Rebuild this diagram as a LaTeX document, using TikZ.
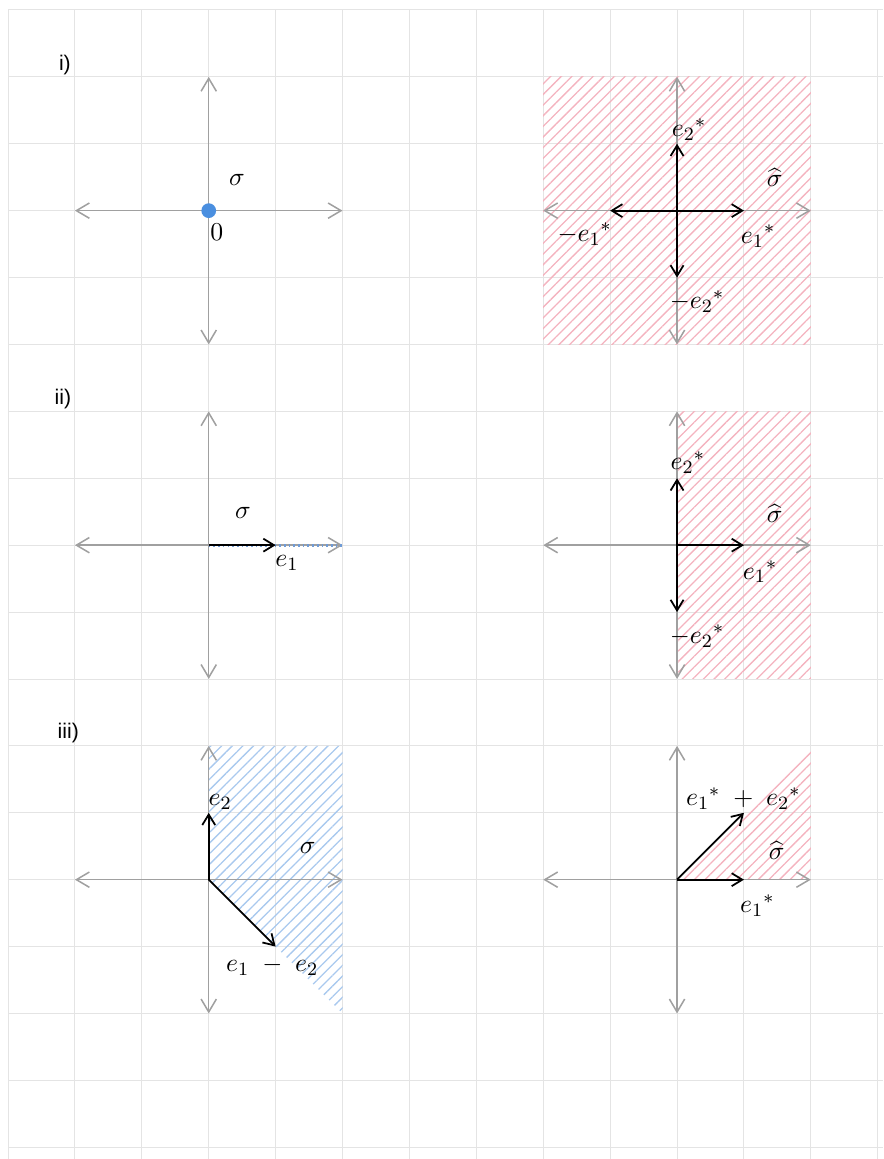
\documentclass[tikz,border=0pt]{standalone}
\usepackage{fontspec}
\setsansfont{Liberation Sans}
\usetikzlibrary{positioning,arrows.meta,patterns.meta}
\definecolor{gridgray}{HTML}{E4E4E4}
\definecolor{axisgray}{HTML}{A0A0A0}
\definecolor{conered}{HTML}{F4B3BF}
\definecolor{coneblue}{HTML}{A9C9EE}
\definecolor{dotblue}{HTML}{4A8FE0}
\definecolor{rayblue}{HTML}{6F9BD6}
\tikzset{
  gridline/.style={draw=gridgray, line width=0.4pt},
  axis/.style={draw=axisgray, line width=0.65pt,
    {Straight Barb[length=5.5pt,width=6.5pt]}-{Straight Barb[length=5.5pt,width=6.5pt]}},
  vec/.style={draw=black, line width=0.75pt, -{Straight Barb[length=4.5pt,width=5.5pt]}},
  redcone/.style={pattern={Lines[angle=45,distance=3.2pt,line width=0.55pt]}, pattern color=conered},
  bluecone/.style={pattern={Lines[angle=45,distance=3.2pt,line width=0.55pt]}, pattern color=coneblue},
  lbl/.style={font=\fontsize{11}{13}\selectfont, inner sep=0pt},
  part/.style={font=\sffamily\fontsize{9}{11}\selectfont, inner sep=0pt},
}
\begin{document}
\begin{tikzpicture}
  \useasboundingbox (-0.12,-0.175) rectangle (13.08,17.149);
  \draw[gridline] (0,-0.175) grid (13.08,17);

  % i)
  \node[part] (pi) at (0.85,16.18) {i)};
  \coordinate (A) at (3,14);
  \coordinate (B) at (10,14);
  \fill[redcone] (8,12) rectangle (12,16);
  \draw[axis] ([xshift=-2cm]A) -- ([xshift=2cm]A);
  \draw[axis] ([yshift=-2cm]A) -- ([yshift=2cm]A);
  \draw[axis] ([xshift=-2cm]B) -- ([xshift=2cm]B);
  \draw[axis] ([yshift=-2cm]B) -- ([yshift=2cm]B);
  \fill[dotblue] (A) circle (0.11);
  \node[lbl] (sA) at (3.42,14.46) {$\sigma$};
  \node[lbl] (zA) at (3.12,13.68) {$0$};
  \coordinate[right=1 of B] (B1);
  \coordinate[left=1 of B] (B2);
  \coordinate[above=1 of B] (B3);
  \coordinate[below=1 of B] (B4);
  \draw[vec] (B) to (B1);
  \draw[vec] (B) to (B2);
  \draw[vec] (B) to (B3);
  \draw[vec] (B) to (B4);
  \node[lbl] (sB) at (11.46,14.49) {$\widehat{\sigma}$};
  \node[lbl] (lB1) at (11.21,13.62) {${e_1}^{*}$};
  \node[lbl] (lB2) at (8.62,13.65) {$-{e_1}^{*}$};
  \node[lbl] (lB3) at (10.18,15.21) {${e_2}^{*}$};
  \node[lbl] (lB4) at (10.30,12.64) {$-{e_2}^{*}$};

  % ii)
  \node[part] (pii) at (0.82,11.19) {ii)};
  \coordinate (C) at (3,9);
  \coordinate (D) at (10,9);
  \fill[redcone] (10,7) rectangle (12,11);
  \draw[axis] ([xshift=-2cm]C) -- ([xshift=2cm]C);
  \draw[axis] ([yshift=-2cm]C) -- ([yshift=2cm]C);
  \draw[axis] ([xshift=-2cm]D) -- ([xshift=2cm]D);
  \draw[axis] ([yshift=-2cm]D) -- ([yshift=2cm]D);
  \coordinate[right=2 of C] (C2);
  \coordinate[right=1 of C] (C1);
  \draw[rayblue, line width=1.3pt, dash pattern=on 0.7pt off 1.3pt] (C) -- (C2);
  \draw[vec] (C) to (C1);
  \node[lbl] (sC) at (3.51,9.48) {$\sigma$};
  \node[lbl] (lC1) at (4.17,8.73) {$e_1$};
  \coordinate[right=1 of D] (D1);
  \coordinate[above=1 of D] (D3);
  \coordinate[below=1 of D] (D4);
  \draw[vec] (D) to (D1);
  \draw[vec] (D) to (D3);
  \draw[vec] (D) to (D4);
  \node[lbl] (sD) at (11.46,9.48) {$\widehat{\sigma}$};
  \node[lbl] (lD1) at (11.24,8.60) {${e_1}^{*}$};
  \node[lbl] (lD3) at (10.16,10.23) {${e_2}^{*}$};
  \node[lbl] (lD4) at (10.30,7.64) {$-{e_2}^{*}$};

  % iii)
  \node[part] (piii) at (0.90,6.19) {iii)};
  \coordinate (E) at (3,4);
  \coordinate (F) at (10,4);
  \fill[bluecone] (E) -- (3,6) -- (5,6) -- (5,2) -- cycle;
  \fill[redcone] (F) -- (12,4) -- (12,6) -- cycle;
  \draw[axis] ([xshift=-2cm]E) -- ([xshift=2cm]E);
  \draw[axis] ([yshift=-2cm]E) -- ([yshift=2cm]E);
  \draw[axis] ([xshift=-2cm]F) -- ([xshift=2cm]F);
  \draw[axis] ([yshift=-2cm]F) -- ([yshift=2cm]F);
  \coordinate[above=1 of E] (E2);
  \coordinate[below right=1 and 1 of E] (E1);
  \draw[vec] (E) to (E2);
  \draw[vec] (E) to (E1);
  \node[lbl] (sE) at (4.48,4.47) {$\sigma$};
  \node[lbl] (lE2) at (3.17,5.16) {$e_2$};
  \node[lbl] (lE1) at (3.95,2.71) {$e_1 \;-\; e_2$};
  \coordinate[right=1 of F] (F1);
  \coordinate[above right=1 and 1 of F] (F2);
  \draw[vec] (F) to (F1);
  \draw[vec] (F) to (F2);
  \node[lbl] (sF) at (11.49,4.44) {$\widehat{\sigma}$};
  \node[lbl] (lF1) at (11.20,3.61) {${e_1}^{*}$};
  \node[lbl] (lF2) at (10.99,5.21) {${e_1}^{*} \;+\; {e_2}^{*}$};
\end{tikzpicture}
\end{document}
